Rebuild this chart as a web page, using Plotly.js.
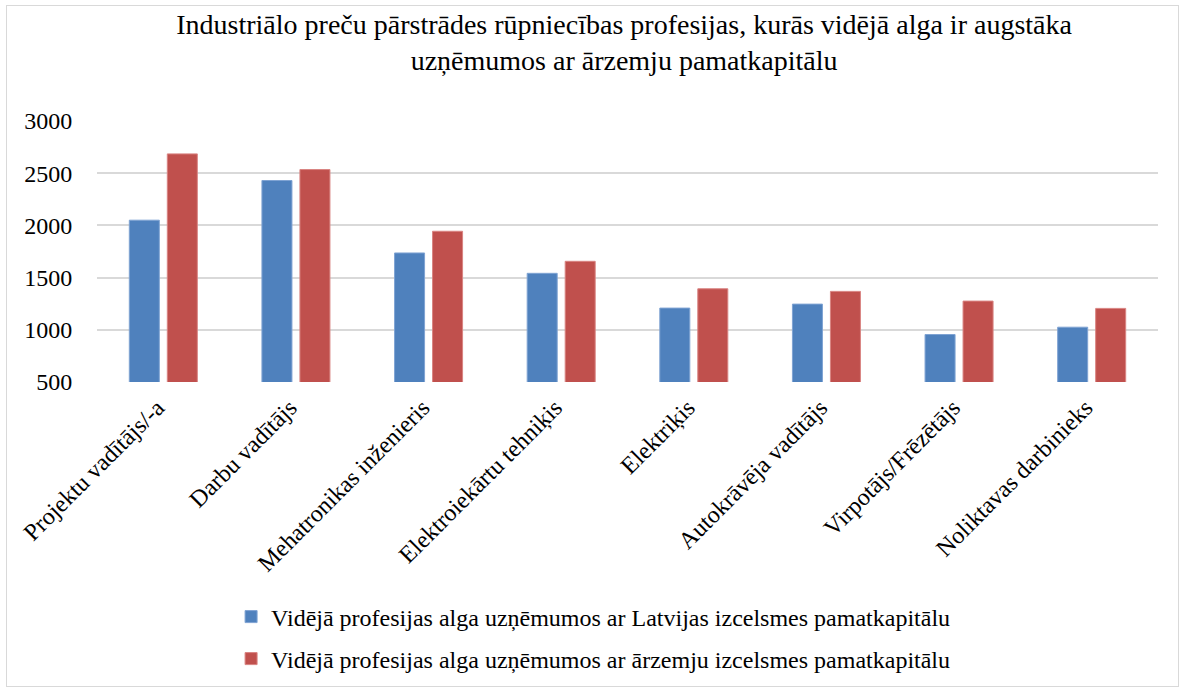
<!DOCTYPE html>
<html>
<head>
<meta charset="utf-8">
<script src="https://cdn.plot.ly/plotly-3.0.1.min.js"></script>
<style>
html,body{margin:0;padding:0;background:#fff;}
#wrap{position:relative;width:1182px;height:688px;}
#chart{position:absolute;left:0;top:0;width:1182px;height:688px;}
#frame{position:absolute;left:6px;top:5px;width:1171px;height:680px;border:1px solid #D9D9D9;pointer-events:none;}
</style>
</head>
<body>
<div id="wrap"><div id="chart"></div><div id="frame"></div></div>
<script>
const categories = ["Projektu vadītājs/-a","Darbu vadītājs","Mehatronikas inženieris","Elektroiekārtu tehniķis","Elektriķis","Autokrāvēja vadītājs","Virpotājs/Frēzētājs","Noliktavas darbinieks"];
const latvianCapital = [2050, 2430, 1736, 1541, 1208, 1246, 955, 1025];
const foreignCapital = [2685, 2535, 1944, 1656, 1393, 1368, 1275, 1205];
const seriesNames = ["Vidējā profesijas alga uzņēmumos ar Latvijas izcelsmes pamatkapitālu","Vidējā profesijas alga uzņēmumos ar ārzemju izcelsmes pamatkapitālu"];
const titleText = "Industriālo preču pārstrādes rūpniecības profesijas, kurās vidējā alga ir augstāka<br>uzņēmumos ar ārzemju pamatkapitālu";
const yTicks = [500, 1000, 1500, 2000, 2500, 3000];

const font = "Liberation Serif, Times New Roman, serif";
const traces = [
  {type:'bar', x:categories, y:latvianCapital, name:seriesNames[0], legend:'legend',
   marker:{color:'#4F81BD', line:{color:'#7FA3D3', width:1}}},
  {type:'bar', x:categories, y:foreignCapital, name:seriesNames[1], legend:'legend2',
   marker:{color:'#C0504D', line:{color:'#D98482', width:1}}}
];
const legendCommon = {xref:'container', yref:'container', x:0.1955, xanchor:'left', yanchor:'middle',
  font:{family:font, size:24, color:'#000'}, bgcolor:'rgba(0,0,0,0)', borderwidth:0};
const layout = {
  width:1182, height:688,
  margin:{l:97, r:24, t:121, b:306, autoexpand:false},
  paper_bgcolor:'#fff', plot_bgcolor:'#fff',
  font:{family:font, color:'#000'},
  title:{text:titleText, font:{family:font, size:28, color:'#000'}, xref:'container', x:0.528, xanchor:'center', yref:'container', y:0.951, yanchor:'top'},
  barmode:'group', bargap:0.427, bargroupgap:0.21,
  xaxis:{tickangle:-45, tickfont:{family:font, size:24, color:'#000'}, showgrid:false, zeroline:false,
    showline:false, ticks:'', automargin:false, ticklabelstandoff:6, ticklabelshift:-6},
  yaxis:{range:[500,3000], tickvals:yTicks, ticktext:yTicks.map(String), showgrid:true, gridcolor:'#D9D9D9', gridwidth:2,
    zeroline:false, showline:false, ticks:'outside', ticklen:19, tickcolor:'rgba(0,0,0,0)',
    tickfont:{family:font, size:24, color:'#000'}, automargin:false},
  showlegend:true,
  legend:Object.assign({}, legendCommon, {y:1-617/688}),
  legend2:Object.assign({}, legendCommon, {y:1-659/688})
};
Plotly.newPlot('chart', traces, layout, {displayModeBar:false, staticPlot:true});
</script>
</body>
</html>
